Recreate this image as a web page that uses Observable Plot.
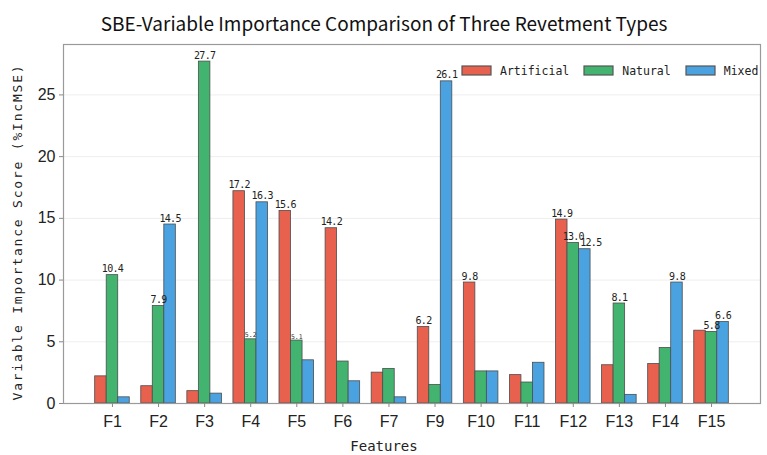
<!DOCTYPE html>
<html>
<head>
<meta charset="utf-8">
<script src="https://cdn.jsdelivr.net/npm/d3@7"></script>
<script src="https://cdn.jsdelivr.net/npm/@observablehq/plot@0.6"></script>
<style>
  html, body { margin: 0; padding: 0; background: #fff; }
  #chart { position: relative; width: 767px; height: 455px; }
  #legend { position: absolute; left: 462px; top: 54px; width: 305px; }
  #legend > div { display: flex !important; flex-wrap: nowrap !important; white-space: nowrap; }
  .lg-swatch { margin-right: 15px !important; }
  .lg-swatch svg { margin-right: 9px !important; }
  .lg-swatch svg rect { stroke: #555; stroke-width: 1.2; }
</style>
</head>
<body>
<div id="chart"><div id="legend"></div></div>
<script>
// Features (F8 is not part of the comparison)
const categories = ["F1", "F2", "F3", "F4", "F5", "F6", "F7", "F9", "F10", "F11", "F12", "F13", "F14", "F15"];
const seriesNames = ["Artificial", "Natural", "Mixed"];
const seriesColors = ["#e8604e", "#42b46f", "#4aa3e0"];

// %IncMSE per revetment type
const artificial = [2.2, 1.4, 1.0, 17.2, 15.6, 14.2, 2.5, 6.2, 9.8, 2.3, 14.9, 3.1, 3.2, 5.9];
const natural    = [10.4, 7.9, 27.7, 5.2, 5.1, 3.4, 2.8, 1.5, 2.6, 1.7, 13.0, 8.1, 4.5, 5.8];
const mixed      = [0.5, 14.5, 0.8, 16.3, 3.5, 1.8, 0.5, 26.1, 2.6, 3.3, 12.5, 0.7, 9.8, 6.6];

// Bars that carry a value label, and the ones printed small
const labeledArtificial = ["F4", "F5", "F6", "F9", "F10", "F12"];
const labeledNatural    = ["F1", "F2", "F3", "F4", "F5", "F12", "F13", "F15"];
const labeledMixed      = ["F2", "F4", "F9", "F12", "F14", "F15"];
const smallLabels = [["Natural", "F4"], ["Natural", "F5"]];

const yTicks = [0, 5, 10, 15, 20, 25];
const title = "SBE-Variable Importance Comparison of Three Revetment Types";
const yLabel = "Variable Importance Score (%IncMSE)";
const xLabel = "Features";

const barWidth = 0.25;
const valuesBySeries = [artificial, natural, mixed];
const labeledBySeries = [labeledArtificial, labeledNatural, labeledMixed];

const rows = [];
seriesNames.forEach((s, k) => {
  valuesBySeries[k].forEach((v, i) => {
    rows.push({
      series: s,
      k,
      category: categories[i],
      center: i + (k - 1) * barWidth,
      value: v,
      labeled: labeledBySeries[k].includes(categories[i]),
      small: smallLabels.some(([ss, c]) => ss === s && c === categories[i])
    });
  });
});

// A label that sits almost level with its labeled left neighbour is pushed aside
const labeled = rows.filter(d => d.labeled && !d.small);
labeled.forEach(d => {
  const left = labeled.find(e => e.category === d.category && e.k === d.k - 1);
  d.crowded = !!left && Math.abs(left.value - d.value) < 0.6;
});

const n = categories.length;
const span = (n - 1) + 3 * barWidth;
const pad = span * 0.05;
const xDomain = [-1.5 * barWidth - pad, (n - 1) + 1.5 * barWidth + pad];
const yMax = d3.max(rows, d => d.value) * 1.05;

const mono = "DejaVu Sans Mono, Liberation Mono, monospace";
const sans = "Liberation Sans, Arial, sans-serif";

const labelStyle = {
  x: "center", y: "value", text: d => d.value.toFixed(1),
  lineAnchor: "bottom", dy: -3, fontSize: 10, fontFamily: mono, fill: "#222"
};

const chart = Plot.plot({
  width: 767,
  height: 455,
  marginLeft: 63,
  marginRight: 7,
  marginTop: 44,
  marginBottom: 52,
  style: { fontFamily: sans, background: "#fff", overflow: "visible" },
  x: { type: "linear", domain: xDomain },
  y: { domain: [0, yMax] },
  color: { domain: seriesNames, range: seriesColors },
  marks: [
    Plot.gridY(yTicks.filter(t => t > 0), { stroke: "#000", strokeOpacity: 0.07 }),
    Plot.rectY(rows, {
      x1: d => d.center - barWidth / 2,
      x2: d => d.center + barWidth / 2,
      y: "value",
      fill: "series",
      stroke: "#4d4d4d",
      strokeWidth: 0.8
    }),
    Plot.frame({ stroke: "#9a9a9a", strokeWidth: 1.2 }),
    Plot.axisY(yTicks, {
      tickSize: 4, tickPadding: 4, fontSize: 16, label: null,
      stroke: "#888", fill: "#222"
    }),
    Plot.axisX(d3.range(n), {
      tickFormat: i => categories[i], tickSize: 4, tickPadding: 8,
      fontSize: 16, label: null, stroke: "#888", fill: "#222"
    }),
    Plot.text(labeled.filter(d => !d.crowded), labelStyle),
    Plot.text(labeled.filter(d => d.crowded), { ...labelStyle, dx: 6 }),
    Plot.text(rows.filter(d => d.labeled && d.small), {
      x: "center", y: "value", text: d => d.value.toFixed(1),
      lineAnchor: "bottom", dy: -2, fontSize: 6.5, fontFamily: mono,
      fill: "#333"
    }),
    Plot.text([yLabel], {
      text: d => d, frameAnchor: "left", textAnchor: "middle", rotate: -90,
      dx: -46, dy: 8, fontSize: 13, fontFamily: mono, fill: "#222"
    }),
    Plot.text([xLabel], {
      text: d => d, frameAnchor: "bottom", dx: -28, dy: 47,
      fontSize: 14, fontFamily: mono, fill: "#222"
    }),
    Plot.text([title], {
      text: d => d, frameAnchor: "top", dx: -28, dy: -27,
      fontSize: 19, fontFamily: "Noto Sans CJK SC, Noto Sans, sans-serif", fill: "#111"
    })
  ]
});

// Letter spacing for the axis title and the value labels
d3.select(chart).selectAll("text").each(function () {
  const t = this.textContent;
  if (t === yLabel) this.style.letterSpacing = "1.8px";
  else if (/^\d+\.\d$/.test(t) && !this.closest("g[font-size='6.5']")) this.style.letterSpacing = "-0.7px";
});

document.getElementById("chart").prepend(chart);

const legend = Plot.legend({
  color: { domain: seriesNames, range: seriesColors },
  legend: "swatches",
  swatchWidth: 29,
  swatchHeight: 9,
  className: "lg",
  style: { fontFamily: mono, fontSize: "11.5px", color: "#222" }
});
document.getElementById("legend").append(legend);
</script>
</body>
</html>
